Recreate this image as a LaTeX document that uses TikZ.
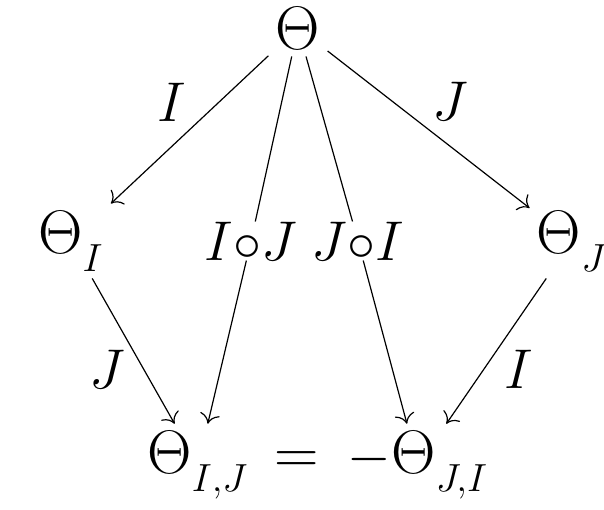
\RequirePackage{fix-cm}
\documentclass[tikz,border=0pt]{standalone}
\usepackage{amsmath,graphicx}
\usetikzlibrary{arrows.meta}
\newcommand{\bTh}{\scalebox{1.1}{$\Theta$}}
\newcommand{\lsub}[1]{_{\lower4.8pt\hbox{$\scriptstyle #1$}}}
\begin{document}
\begin{tikzpicture}[x=0.5pt,y=-0.5pt,>={Computer Modern Rightarrow[length=5pt,width=10pt]},
  every node/.style={font=\fontsize{28}{34}\selectfont},
  obj/.style={inner sep=3.5pt},
  pair/.style={inner sep=0pt},
  lbl/.style={inner sep=4pt},
  map/.style={line width=0.6pt}]
\useasboundingbox (0,0) rectangle (604,509);
\node[obj] (T) at (298,28) {$\bTh$};
\node[obj] (TI) at (71,241) {$\bTh\lsub{I}$};
\node[obj] (TJ) at (572,241) {$\bTh\lsub{J}$};
\node[pair] (IoJ) at (251,241) {$I{\circ}J$};
\node[pair] (JoI) at (358,241) {$J{\circ}I$};
\node[obj] (TIJ) at (198,465) {$\bTh\lsub{I,J}$};
\node[obj] (TJI) at (418,465) {$-\bTh\lsub{J,I}$};
\coordinate (eqx) at (297,0);
\node[anchor=base] (eq) at (TIJ.base -| eqx) {$\scalebox{1.1}{$=$}$};
% top row
\draw[->,map] (T) -- node[lbl,anchor=south east,xshift=2.5pt] (lI) {$I$} (TI);
\draw[->,map] (T) -- node[lbl,anchor=south west,xshift=-2.5pt] (lJ) {$J$} (TJ);
\draw[map] (T) -- (IoJ);
\draw[map] (T) -- (JoI);
% bottom row
\draw[->,map] (TI) -- node[lbl,anchor=north east,yshift=4.5pt] (lJb) {$J$} (TIJ);
\draw[->,map] (IoJ) -- (TIJ);
\draw[->,map] (JoI) -- (TJI);
\draw[->,map] (TJ) -- node[lbl,anchor=north west,yshift=4.5pt] (lIb) {$I$} (TJI);
\end{tikzpicture}
\end{document}
